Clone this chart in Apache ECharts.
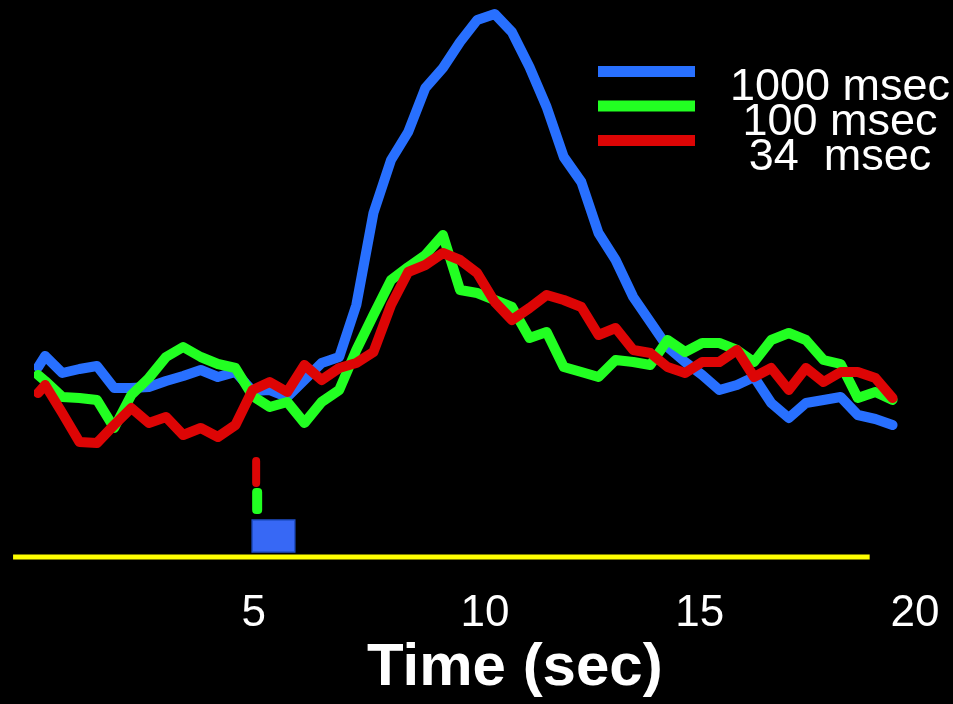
<!DOCTYPE html>
<html>
<head>
<meta charset="utf-8">
<script src="https://cdn.jsdelivr.net/npm/echarts@6/dist/echarts.min.js"></script>
<style>
  html, body { margin: 0; padding: 0; background: #000; }
  #chart { width: 953px; height: 704px; }
</style>
</head>
<body>
<div id="chart"></div>
<script>
// Sample times (sec)
const times = [-0.02,0.14,0.53,0.92,1.32,1.71,2.10,2.50,2.89,3.28,3.68,4.07,4.47,4.86,5.25,5.65,6.04,6.43,6.83,7.22,7.61,8.01,8.40,8.79,9.19,9.58,9.97,10.37,10.76,11.16,11.55,11.94,12.34,12.73,13.12,13.52,13.91,14.30,14.70,15.09,15.48,15.88,16.27,16.66,17.06,17.45,17.85,18.24,18.63,19.03,19.42];

// Responses (arbitrary units, baseline line = 0)
const resp1000 = [1.90,2.01,1.84,1.88,1.91,1.69,1.69,1.70,1.76,1.81,1.87,1.80,1.85,1.66,1.67,1.60,1.77,1.94,2.00,2.52,3.44,3.97,4.25,4.69,4.89,5.15,5.37,5.43,5.25,4.90,4.50,4.00,3.75,3.24,2.97,2.60,2.35,2.10,1.95,1.82,1.67,1.72,1.80,1.54,1.39,1.54,1.57,1.60,1.42,1.38,1.32];
const resp100 = [1.82,1.76,1.60,1.59,1.57,1.29,1.62,1.79,2.00,2.10,2.00,1.93,1.89,1.61,1.50,1.55,1.34,1.55,1.67,2.07,2.42,2.77,2.90,3.02,3.22,2.67,2.64,2.57,2.50,2.19,2.25,1.90,1.85,1.80,1.97,1.95,1.92,2.17,2.05,2.14,2.14,2.07,1.95,2.17,2.24,2.17,1.97,1.93,1.59,1.65,1.57];
const resp34 = [1.64,1.72,1.44,1.15,1.14,1.32,1.49,1.34,1.40,1.22,1.29,1.20,1.32,1.67,1.75,1.65,1.92,1.77,1.89,1.94,2.05,2.52,2.85,2.92,3.04,2.97,2.84,2.55,2.37,2.49,2.62,2.57,2.50,2.22,2.29,2.07,2.04,1.90,1.84,1.95,1.95,2.07,1.80,1.89,1.67,1.89,1.75,1.85,1.85,1.79,1.59];

const seriesNames = ['1000 msec', '100 msec', '34  msec'];

// Stimulus presentation: onset (s), duration (s), row low, row high
const stimOnset = 4.85;
const stimDur = [0.97, 0.1, 0.034];
const stimLow = [0.05, 0.43, 0.70];
const stimHigh = [0.37, 0.69, 1.00];

// Baseline extent (s) at level 0
const baselineStart = -0.59;
const baselineEnd = 18.9;

const xTicks = [5, 10, 15, 20];

const colors = ['#2870ff', '#22ff22', '#dd0505'];
const stimFill = ['#3768f5', '#22ff22', '#dd0505'];
const stimMinW = [0, 10, 8];

function pairs(arr) { return arr.map((v, i) => [times[i], v]); }

const chart = echarts.init(document.getElementById('chart'), null, { renderer: 'canvas' });
const FONT = 'Liberation Sans, Arial, Helvetica, sans-serif';

const lineSeries = [resp1000, resp100, resp34].map((arr, i) => ({
  name: seriesNames[i],
  type: 'line',
  data: pairs(arr),
  showSymbol: false,
  symbol: 'none',
  clip: false,
  color: colors[i],
  lineStyle: { width: 10, color: colors[i], cap: 'round', join: 'round' },
  z: 3 + i
}));

const option = {
  backgroundColor: '#000',
  animation: false,
  grid: { left: 39, width: 879, top: 7, height: 570 },
  title: {
    text: 'Time (sec)',
    left: 362, top: 633,
    textStyle: { color: '#fff', fontSize: 60, fontWeight: 'bold', fontFamily: FONT }
  },
  legend: [
    {
      data: seriesNames,
      orient: 'vertical',
      left: 598, top: 66,
      padding: 0,
      itemWidth: 97, itemHeight: 11, itemGap: 23.5,
      icon: 'rect',
      formatter: () => '',
      textStyle: { fontSize: 1, lineHeight: 1 },
      selectedMode: false
    },
    {
      data: seriesNames,
      orient: 'vertical',
      left: 695, top: 65,
      padding: 0,
      itemWidth: 0, itemHeight: 0, itemGap: -10,
      icon: 'rect',
      itemStyle: { opacity: 0 },
      selectedMode: false,
      formatter: name => '{t|' + name + '}',
      textStyle: {
        color: '#fff', fontSize: 45, fontFamily: FONT,
        rich: { t: { color: '#fff', fontSize: 45, fontFamily: FONT, width: 280, align: 'center' } }
      }
    }
  ],
  xAxis: {
    type: 'value', min: 0, max: 20, interval: 5,
    axisLine: { show: false }, axisTick: { show: false }, splitLine: { show: false },
    axisLabel: {
      color: '#fff', fontSize: 44, fontFamily: FONT, margin: 15,
      showMinLabel: false,
      formatter: v => (xTicks.indexOf(v) >= 0 ? '{t' + v + '|' + v + '}' : ''),
      rich: {
        t5: { color: '#fff', fontSize: 44, fontFamily: FONT, padding: [0, 10, 0, 0] },
        t10: { color: '#fff', fontSize: 44, fontFamily: FONT, padding: [0, 0, 0, 13] },
        t15: { color: '#fff', fontSize: 44, fontFamily: FONT, padding: [0, 0, 0, 3] },
        t20: { color: '#fff', fontSize: 44, fontFamily: FONT, padding: [0, 6, 0, 0] }
      }
    }
  },
  yAxis: { type: 'value', min: -0.2, max: 5.5, show: false },
  series: [
    {
      name: 'baseline', type: 'custom', clip: false, z: 1, silent: true,
      data: [[baselineStart, baselineEnd, 0]],
      renderItem: function (params, api) {
        const a = api.coord([api.value(0), api.value(2)]);
        const b = api.coord([api.value(1), api.value(2)]);
        return {
          type: 'line',
          shape: { x1: a[0], y1: a[1], x2: b[0], y2: b[1] },
          style: { stroke: '#ffff00', lineWidth: 5 }
        };
      }
    },
    {
      name: 'stimulus', type: 'custom', clip: false, z: 2, silent: true,
      data: stimDur.map((d, i) => [stimOnset, d, stimLow[i], stimHigh[i], i]),
      renderItem: function (params, api) {
        const i = api.value(4);
        const p0 = api.coord([api.value(0), api.value(3)]);
        const p1 = api.coord([api.value(0) + api.value(1), api.value(2)]);
        const w = Math.max(p1[0] - p0[0], stimMinW[i]);
        return {
          type: 'rect',
          shape: { x: p0[0], y: p0[1], width: w, height: p1[1] - p0[1], r: i === 0 ? 0 : 4 },
          style: i === 0
            ? { fill: stimFill[i], stroke: '#1f4fc8', lineWidth: 1.5 }
            : { fill: stimFill[i] }
        };
      }
    }
  ].concat(lineSeries)
};

chart.setOption(option);
</script>
</body>
</html>
